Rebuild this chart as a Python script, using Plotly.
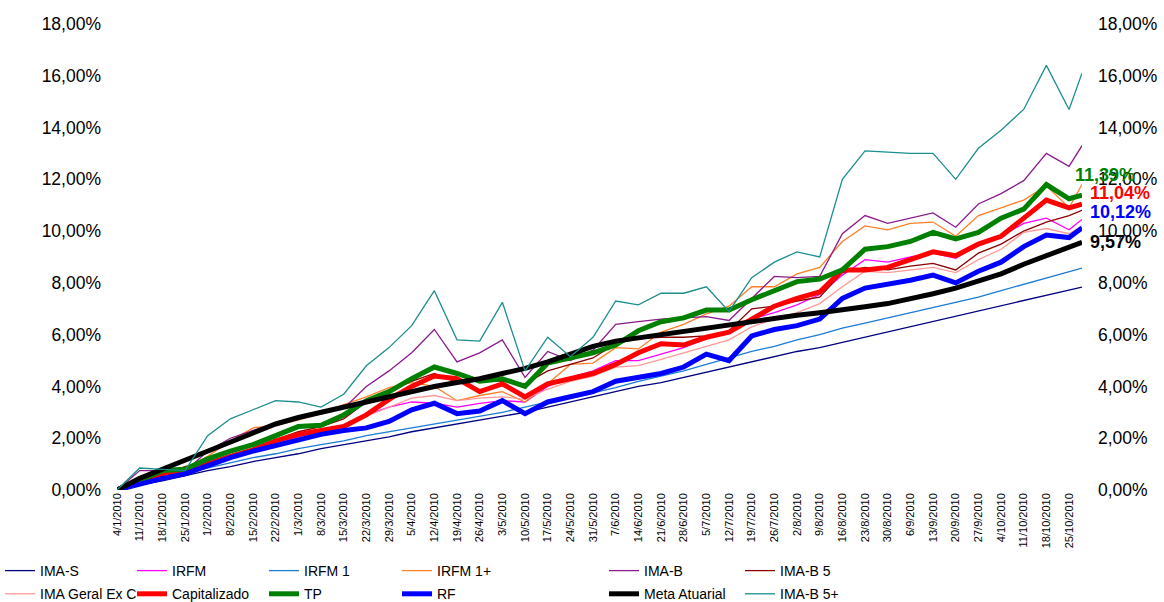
import plotly.graph_objects as go

# ---------------- data ----------------
dates = ["2010-01-04", "2010-01-11", "2010-01-18", "2010-01-25", "2010-02-01", "2010-02-08",
         "2010-02-15", "2010-02-22", "2010-03-01", "2010-03-08", "2010-03-15", "2010-03-22",
         "2010-03-29", "2010-04-05", "2010-04-12", "2010-04-19", "2010-04-26", "2010-05-03",
         "2010-05-10", "2010-05-17", "2010-05-24", "2010-05-31", "2010-06-07", "2010-06-14",
         "2010-06-21", "2010-06-28", "2010-07-05", "2010-07-12", "2010-07-19", "2010-07-26",
         "2010-08-02", "2010-08-09", "2010-08-16", "2010-08-23", "2010-08-30", "2010-09-06",
         "2010-09-13", "2010-09-20", "2010-09-27", "2010-10-04", "2010-10-11", "2010-10-18",
         "2010-10-25", "2010-10-29"]

tick_dates = dates[:-1]
tick_labels = ["4/1/2010", "11/1/2010", "18/1/2010", "25/1/2010", "1/2/2010", "8/2/2010",
               "15/2/2010", "22/2/2010", "1/3/2010", "8/3/2010", "15/3/2010", "22/3/2010",
               "29/3/2010", "5/4/2010", "12/4/2010", "19/4/2010", "26/4/2010", "3/5/2010",
               "10/5/2010", "17/5/2010", "24/5/2010", "31/5/2010", "7/6/2010", "14/6/2010",
               "21/6/2010", "28/6/2010", "5/7/2010", "12/7/2010", "19/7/2010", "26/7/2010",
               "2/8/2010", "9/8/2010", "16/8/2010", "23/8/2010", "30/8/2010", "6/9/2010",
               "13/9/2010", "20/9/2010", "27/9/2010", "4/10/2010", "11/10/2010", "18/10/2010",
               "25/10/2010"]

ima_s = [0, 0.2, 0.35, 0.55, 0.75, 0.9, 1.1, 1.25, 1.4, 1.6, 1.75,
         1.9, 2.05, 2.25, 2.4, 2.55, 2.7, 2.85, 3.0, 3.2, 3.4, 3.6,
         3.8, 4.0, 4.15, 4.35, 4.55, 4.75, 4.95, 5.15, 5.35, 5.5, 5.7,
         5.9, 6.1, 6.3, 6.5, 6.7, 6.9, 7.1, 7.3, 7.5, 7.7, 7.84]

irfm = [0, 0.25, 0.5, 0.75, 1.0, 1.25, 1.45, 1.75, 2.05, 2.25, 2.45,
        2.9, 3.2, 3.4, 3.35, 3.2, 3.35, 3.45, 3.4, 4.0, 4.35, 4.6,
        5.0, 5.0, 5.25, 5.5, 5.85, 6.1, 6.6, 6.85, 7.15, 7.55, 8.3,
        8.9, 8.8, 9.0, 9.15, 8.95, 9.45, 9.8, 10.3, 10.5, 10.05, 10.45]

irfm_1 = [0, 0.25, 0.45, 0.65, 0.85, 1.05, 1.25, 1.4, 1.6, 1.75, 1.9,
          2.1, 2.25, 2.4, 2.55, 2.7, 2.85, 3.0, 3.2, 3.4, 3.55, 3.75,
          3.95, 4.2, 4.4, 4.6, 4.85, 5.1, 5.35, 5.55, 5.8, 6.0, 6.25,
          6.45, 6.65, 6.85, 7.05, 7.25, 7.45, 7.7, 7.95, 8.2, 8.45, 8.57]

irfm_1p = [0, 0.3, 0.6, 0.8, 1.3, 1.9, 2.4, 2.5, 2.7, 2.95, 3.3,
           3.6, 3.95, 4.15, 4.0, 3.45, 3.65, 3.8, 3.4, 4.1, 4.85, 4.9,
           5.5, 5.45, 6.1, 6.4, 6.8, 7.1, 7.85, 7.85, 8.35, 8.6, 9.6,
           10.2, 10.05, 10.3, 10.35, 9.8, 10.6, 10.9, 11.2, 11.75, 10.9, 11.8]

ima_b = [0, 0.75, 0.75, 0.72, 1.5, 2.0, 2.3, 2.6, 2.75, 2.95, 3.15,
         4.0, 4.6, 5.3, 6.2, 4.95, 5.3, 5.8, 4.35, 5.35, 5.0, 5.4,
         6.4, 6.5, 6.6, 6.65, 6.7, 6.55, 7.4, 8.25, 8.2, 8.25, 9.9,
         10.6, 10.3, 10.5, 10.7, 10.15, 11.05, 11.45, 11.95, 13.0, 12.5, 13.3]

ima_b5 = [0, 0.3, 0.6, 0.9, 1.1, 1.35, 1.6, 1.95, 2.25, 2.45, 2.75,
          3.4, 3.8, 4.2, 4.5, 4.15, 4.25, 4.2, 4.1, 4.6, 4.85, 5.1,
          5.65, 5.85, 5.9, 5.9, 5.95, 6.15, 7.0, 7.1, 7.3, 7.45, 8.4,
          8.6, 8.5, 8.65, 8.75, 8.5, 9.15, 9.5, 10.0, 10.35, 10.6, 10.8]

ima_geral = [0, 0.25, 0.5, 0.7, 0.95, 1.2, 1.45, 1.75, 2.0, 2.2, 2.4,
             2.85, 3.2, 3.55, 3.65, 3.45, 3.55, 3.6, 3.5, 3.9, 4.2, 4.4,
             4.75, 4.8, 5.05, 5.3, 5.55, 5.8, 6.3, 6.6, 6.85, 7.2, 7.85,
             8.45, 8.4, 8.5, 8.6, 8.4, 8.9, 9.3, 9.95, 10.1, 9.9, 10.2]

capitalizado = [0, 0.3, 0.55, 0.75, 1.0, 1.3, 1.55, 1.9, 2.15, 2.3, 2.45,
                2.9, 3.5, 4.0, 4.4, 4.3, 3.8, 4.1, 3.6, 4.1, 4.3, 4.5,
                4.85, 5.3, 5.65, 5.6, 5.9, 6.1, 6.6, 7.1, 7.4, 7.65, 8.5,
                8.5, 8.6, 8.9, 9.2, 9.05, 9.5, 9.8, 10.5, 11.2, 10.9, 11.04]

tp = [0, 0.35, 0.75, 0.8, 1.2, 1.5, 1.75, 2.1, 2.45, 2.5, 2.9,
      3.45, 3.8, 4.3, 4.75, 4.5, 4.2, 4.3, 4.0, 4.9, 5.1, 5.3,
      5.6, 6.15, 6.5, 6.65, 6.95, 6.95, 7.35, 7.7, 8.05, 8.15, 8.5,
      9.3, 9.4, 9.6, 9.95, 9.7, 9.95, 10.5, 10.85, 11.8, 11.25, 11.39]

rf = [0, 0.25, 0.45, 0.62, 0.95, 1.25, 1.5, 1.72, 1.95, 2.15, 2.3,
      2.4, 2.65, 3.1, 3.35, 2.95, 3.05, 3.45, 2.95, 3.4, 3.6, 3.8,
      4.2, 4.35, 4.5, 4.75, 5.25, 5.0, 5.95, 6.2, 6.35, 6.6, 7.4,
      7.8, 7.95, 8.1, 8.3, 8.0, 8.45, 8.8, 9.4, 9.85, 9.75, 10.12]

meta_atuarial = [0, 0.45, 0.8, 1.15, 1.5, 1.85, 2.2, 2.55, 2.8, 3.0, 3.2,
                 3.4, 3.6, 3.8, 4.0, 4.15, 4.3, 4.5, 4.7, 4.95, 5.25, 5.55,
                 5.75, 5.88, 6.0, 6.12, 6.25, 6.38, 6.5, 6.62, 6.75, 6.85, 6.95,
                 7.08, 7.2, 7.38, 7.58, 7.8, 8.05, 8.35, 8.72, 9.05, 9.38, 9.57]

ima_b5p = [0, 0.85, 0.8, 0.75, 2.1, 2.75, 3.1, 3.45, 3.4, 3.2, 3.7,
           4.8, 5.5, 6.35, 7.7, 5.8, 5.75, 7.25, 4.6, 5.9, 5.15, 5.9,
           7.3, 7.15, 7.6, 7.6, 7.85, 6.9, 8.2, 8.8, 9.2, 9.0, 12.0,
           13.1, 13.05, 13.0, 13.0, 12.0, 13.2, 13.9, 14.7, 16.4, 14.7, 16.1]

y_ticks = [0, 2, 4, 6, 8, 10, 12, 14, 16, 18]
y_tick_labels = ["0,00%", "2,00%", "4,00%", "6,00%", "8,00%", "10,00%",
                 "12,00%", "14,00%", "16,00%", "18,00%"]

# ---------------- styling ----------------
FONT = "Arial, Liberation Sans, sans-serif"

series = [
    ("IMA-S", ima_s, "#000080", 1.3, "legend"),
    ("IRFM", irfm, "#FF00FF", 1.3, "legend2"),
    ("IRFM 1", irfm_1, "#1C7CD5", 1.3, "legend3"),
    ("IRFM 1+", irfm_1p, "#FF7F27", 1.3, "legend4"),
    ("IMA-B", ima_b, "#8B1A8B", 1.3, "legend5"),
    ("IMA-B 5", ima_b5, "#8B0000", 1.3, "legend6"),
    ("IMA Geral Ex C", ima_geral, "#FF9999", 1.3, "legend"),
    ("Capitalizado", capitalizado, "#FF0000", 5, "legend2"),
    ("TP", tp, "#008000", 5, "legend3"),
    ("RF", rf, "#0000FF", 5, "legend4"),
    ("Meta Atuarial", meta_atuarial, "#000000", 5, "legend5"),
    ("IMA-B 5+", ima_b5p, "#1B8E8E", 1.3, "legend6"),
]

fig = go.Figure()
for name, vals, color, width, leg in series:
    fig.add_trace(go.Scatter(
        x=dates, y=vals, name=name, mode="lines",
        line=dict(color=color, width=width),
        legend=leg, legendgroup=name,
    ))

# invisible trace so the right-hand axis is drawn
fig.add_trace(go.Scatter(
    x=dates, y=meta_atuarial, yaxis="y2", mode="lines",
    line=dict(width=0, color="rgba(0,0,0,0)"),
    showlegend=False, hoverinfo="skip",
))

# end labels
end_labels = [
    (tp, "#008000", -9, 20),
    (capitalizado, "#FF0000", 6, 11),
    (rf, "#0000FF", 6, 16),
    (meta_atuarial, "#000000", 6, 0),
]
for vals, color, xs, ys in end_labels:
    fig.add_annotation(
        x=dates[-1], y=vals[-1], xref="x", yref="y",
        text="<b>" + f"{vals[-1]:.2f}".replace(".", ",") + "%</b>",
        showarrow=False, xanchor="left", yanchor="middle",
        xshift=xs, yshift=ys,
        font=dict(family=FONT, size=18, color=color),
    )

W, H = 1164, 602
leg_cols_px = [0, 132, 264, 397, 604, 740]
legend_names = ["legend", "legend2", "legend3", "legend4", "legend5", "legend6"]
legend_layout = {}
for ln, px in zip(legend_names, leg_cols_px):
    legend_layout[ln] = dict(
        orientation="v", xref="container", yref="container",
        x=px / W, y=1 - 555 / H, xanchor="left", yanchor="top",
        font=dict(family=FONT, size=14, color="#000000"),
        bgcolor="rgba(0,0,0,0)", borderwidth=0, tracegroupgap=2,
    )

yax = dict(
    range=[0, 18], tickmode="array", tickvals=y_ticks, ticktext=y_tick_labels,
    showgrid=False, zeroline=False, showline=False, ticks="",
    tickfont=dict(family=FONT, size=17.5, color="#000000"),
    ticklabelstandoff=15, fixedrange=True,
)

fig.update_layout(
    width=W, height=H,
    margin=dict(l=117, r=82, t=24, b=112, autoexpand=False),
    paper_bgcolor="white", plot_bgcolor="white",
    showlegend=True,
    xaxis=dict(
        type="date", range=[dates[0], dates[-1]],
        tickvals=tick_dates, ticktext=tick_labels, tickangle=-90,
        showgrid=False, zeroline=False, showline=False, ticks="",
        tickfont=dict(family=FONT, size=11, color="#000000"),
    ),
    yaxis=yax,
    yaxis2=dict(yax, overlaying="y", side="right"),
    **legend_layout,
)

fig.write_html(
    "out.html",
    config={"displayModeBar": False},
    post_script="document.body.style.margin='0';document.body.style.padding='0';",
)
